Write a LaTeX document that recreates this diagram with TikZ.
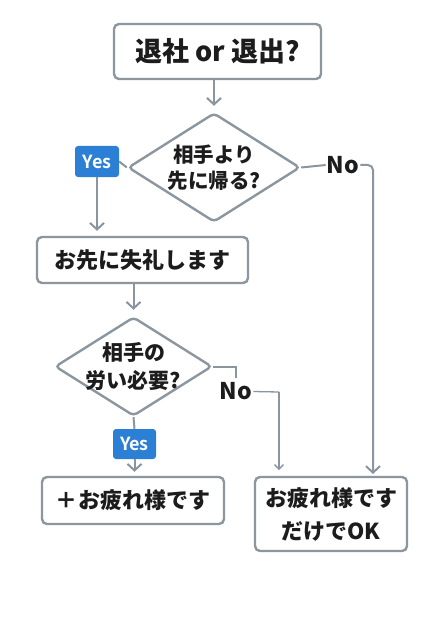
\documentclass[tikz,border=0pt]{standalone}
\usepackage{fontspec}
\newfontfamily\jp{Noto Sans CJK JP}[UprightFont=* Black]
\newfontfamily\jpb{Noto Sans CJK JP}[UprightFont=* Bold]
\usetikzlibrary{shapes.geometric,arrows.meta,calc}
\definecolor{linegray}{HTML}{8A95A0}
\definecolor{boxgray}{HTML}{8C969F}
\definecolor{yesblue}{HTML}{2B7FD4}
\definecolor{txt}{HTML}{1C1C1C}
\tikzset{
  procbox/.style={draw=boxgray, line width=2.4bp, rounded corners=5bp, fill=white,
    text=txt, inner sep=0pt, align=center},
  decision/.style={draw=boxgray, line width=2.4bp, shape=diamond, rounded corners=4bp,
    fill=white, inner sep=0pt},
  dtext/.style={text=txt, inner sep=0pt, align=center},
  yeslabel/.style={fill=yesblue, rounded corners=3bp, text=white, inner sep=0pt,
    font=\jpb\fontsize{18bp}{20bp}\selectfont},
  nolabel/.style={text=txt, inner sep=1bp, font=\jp\fontsize{23bp}{25bp}\selectfont},
  conn/.style={draw=linegray, line width=2bp},
  arr/.style={conn, -{Straight Barb[length=6.5bp,width=14bp,line width=2bp]}},
  thinarr/.style={draw=linegray, line width=1.3bp, -{Straight Barb[length=4.5bp,width=9bp,line width=1.3bp]}}
}
\begin{document}
\begin{tikzpicture}[x=1bp,y=-1bp]
\useasboundingbox (0,0) rectangle (427,640);
\fill[white] (0,0) rectangle (427,640);

\node[procbox, minimum width=207bp, minimum height=55bp,
  font=\jp\fontsize{27bp}{30bp}\selectfont] (top) at (217.5,51.5) {退社 or 退出?};

\node[decision, minimum width=172bp, minimum height=109bp] (d1) at (214,167.5) {};
\node[dtext, font=\jp\fontsize{20.5bp}{26bp}\selectfont] (d1t) at (d1.center) {相手より\\先に帰る?};

\node[yeslabel, minimum width=44bp, minimum height=31bp] (yes1) at (97,161.5) {Yes};
\node[nolabel] (no1) at (343,165) {No};

\node[procbox, minimum width=211bp, minimum height=46bp,
  font=\jp\fontsize{22bp}{26bp}\selectfont] (box2) at (142.5,260) {お先に失礼します};

\node[decision, minimum width=157bp, minimum height=99bp] (d2) at (133.5,366.5) {};
\node[dtext, font=\jp\fontsize{21bp}{28bp}\selectfont] (d2t) at (d2.center) {相手の\\労い必要?};

\node[yeslabel, minimum width=43bp, minimum height=30bp] (yes2) at (134.5,444) {Yes};
\node[nolabel] (no2) at (236,391.5) {No};

\node[procbox, minimum width=182bp, minimum height=47bp,
  font=\jp\fontsize{22bp}{26bp}\selectfont] (box3) at (133,500.5) {＋お疲れ様です};

\node[procbox, minimum width=152bp, minimum height=74bp,
  font=\jp\fontsize{22bp}{33bp}\selectfont] (box4) at (331,514) {お疲れ様です\\だけでOK};

\coordinate (n1end) at (373,477);
\coordinate (n2turn) at (279,392);
\coordinate (n2end) at (279,477);

% connectors
\draw[arr, shorten >=6bp] (top.south -| d1.north) -- (d1.north);
\draw[conn] (d1.west) -- (yes1.east);
\draw[arr, shorten >=5bp] (yes1.south) -- (box2.north -| yes1.south);
\draw[conn] (d1.east) -- (no1.west);
\draw[arr, rounded corners=5bp, shorten >=3bp] (no1.east) -| (n1end);
\draw[arr, shorten >=6bp] (box2.south -| d2.north) -- (d2.north);
\draw[conn] (d2.east) -| ($(no2.north)+(0,-4)$);
\draw[conn, line width=1.3bp] (no2.east) -- (n2turn);
\draw[thinarr, shorten >=7bp] (n2turn) -- (n2end);
\draw[conn] (d2.south) -- (yes2.north);
\draw[arr, shorten >=4bp] (yes2.south) -- (box3.north -| yes2.south);
\end{tikzpicture}
\end{document}
